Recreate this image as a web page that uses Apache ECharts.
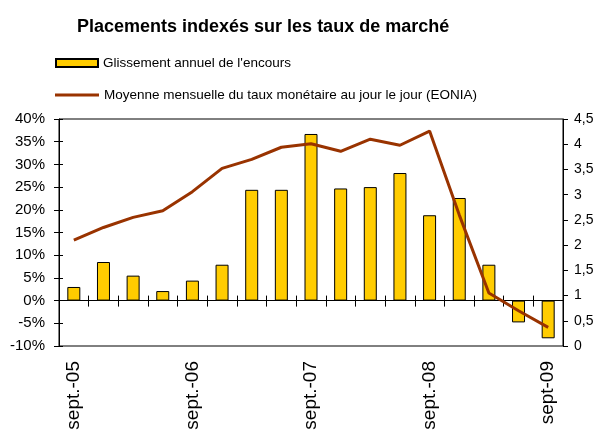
<!DOCTYPE html>
<html lang="fr">
<head>
<meta charset="UTF-8">
<title>Placements indexés sur les taux de marché</title>
<script src="https://cdn.jsdelivr.net/npm/echarts@6/dist/echarts.min.js"></script>
<style>
  html, body { margin: 0; padding: 0; background: #fff; }
  #main { width: 598px; height: 433px; }
</style>
</head>
<body>
<div id="main"></div>
<script>
// trimestres de sept. 2005 a sept. 2009
var quarters = ['2005-09','2005-12','2006-03','2006-06','2006-09','2006-12','2007-03','2007-06',
                '2007-09','2007-12','2008-03','2008-06','2008-09','2008-12','2009-03','2009-06','2009-09'];
var tickLabels = ['sept.-05','','','','sept.-06','','','','sept.-07','','','','sept.-08','','','','sept-09'];
// glissement annuel de l'encours (%)
var glissement = [3.0, 8.5, 5.5, 2.1, 4.4, 7.9, 24.4, 24.4, 36.7, 24.7, 25.0, 28.1, 18.8, 22.6, 7.9, -4.8, -8.3];
// EONIA moyenne mensuelle (%)
var eonia = [2.10, 2.35, 2.55, 2.68, 3.06, 3.52, 3.70, 3.94, 4.01, 3.86, 4.10, 3.98, 4.26, 2.60, 1.05, 0.70, 0.37];

var nameBar = "Glissement annuel de l'encours";
var nameLine = 'Moyenne mensuelle du taux monétaire au jour le jour (EONIA)';

var chart = echarts.init(document.getElementById('main'));
var font = 'Liberation Sans, Arial, sans-serif';

var zeroAxis = function (inside, len) {
    return {
        type: 'category', data: quarters, position: 'bottom',
        axisLine: { onZero: true, onZeroAxisIndex: 0, lineStyle: { color: '#000', width: 1 } },
        axisTick: { show: true, inside: inside, length: len, interval: 0, lineStyle: { color: '#000' } },
        axisLabel: { show: false }
    };
};

chart.setOption({
    animation: false,
    title: {
        text: 'Placements indexés sur les taux de marché',
        left: 77, top: 18, padding: 0,
        textStyle: { fontFamily: font, fontSize: 18, fontWeight: 'bold', color: '#000' }
    },
    legend: [{
        data: [{ name: nameBar, icon: 'rect' }], left: 55, top: 56, padding: 0, itemWidth: 42, itemHeight: 8,
        textStyle: { fontFamily: font, fontSize: 13.5, color: '#000' }
    }, {
        data: [{ name: nameLine, icon: 'rect' }], left: 55, top: 88, padding: 0, itemWidth: 44, itemHeight: 3,
        textStyle: { fontFamily: font, fontSize: 13.5, color: '#000' }
    }],
    grid: { left: 59, right: 35, top: 119, bottom: 87, show: true, borderColor: '#000', borderWidth: 1 },
    xAxis: [{
        type: 'category', data: quarters, position: 'bottom',
        axisLine: { show: false, onZero: false }, axisTick: { show: false },
        axisLabel: {
            interval: 0, rotate: 90, margin: 15, fontFamily: font, fontSize: 19, color: '#000',
            formatter: function (v, i) { return tickLabels[i]; }
        }
    }, zeroAxis(false, 6), zeroAxis(true, 5)],
    yAxis: [{
        type: 'value', position: 'left', min: -10, max: 40, interval: 5,
        splitLine: { show: false },
        axisLine: { show: true, lineStyle: { color: '#000' } },
        axisTick: { show: true, length: 5, lineStyle: { color: '#000' } },
        axisLabel: { margin: 14, fontFamily: font, fontSize: 15, color: '#000', formatter: '{value}%' }
    }, {
        type: 'value', position: 'right', min: 0, max: 4.5, interval: 0.5,
        splitLine: { show: false },
        axisLine: { show: true, lineStyle: { color: '#000' } },
        axisTick: { show: true, length: 5, lineStyle: { color: '#000' } },
        axisLabel: {
            margin: 11, fontFamily: font, fontSize: 14, color: '#000',
            formatter: function (v) { return String(v).replace('.', ','); }
        }
    }, {
        type: 'value', position: 'left', min: -10, max: 40, interval: 5,
        splitLine: { show: false },
        axisLine: { show: false },
        axisTick: { show: true, inside: true, length: 4, lineStyle: { color: '#000' } },
        axisLabel: { show: false }
    }],
    series: [{
        name: nameBar, type: 'bar', data: glissement, barWidth: 13,
        xAxisIndex: 0, yAxisIndex: 0,
        itemStyle: { color: '#FFCC00', borderColor: '#000', borderWidth: 1 }
    }, {
        name: nameLine, type: 'line', data: eonia, xAxisIndex: 0, yAxisIndex: 1,
        symbol: 'none', lineStyle: { color: '#993300', width: 3 }, itemStyle: { color: '#993300' }
    }]
});
</script>
</body>
</html>
